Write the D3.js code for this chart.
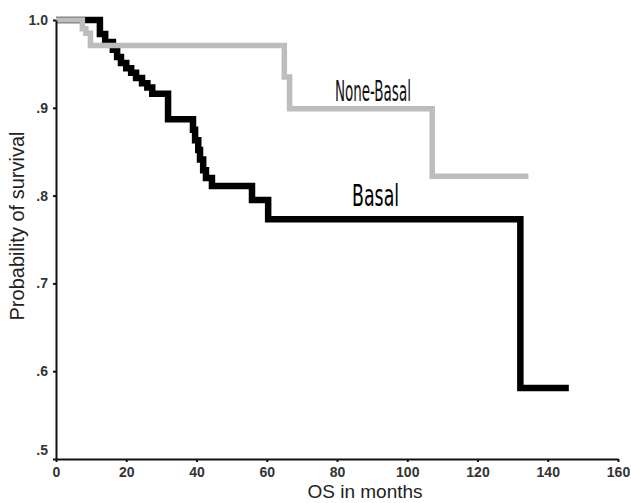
<!DOCTYPE html>
<html>
<head>
<meta charset="utf-8">
<script src="https://cdn.jsdelivr.net/npm/d3@7"></script>
<style>
  body { margin: 0; background: #fff; }
  svg { display: block; }
</style>
</head>
<body>
<div id="chart"></div>
<script>
// Kaplan-Meier steps (months, survival)
var basalMonths = [0, 12.5, 14, 16.2, 17.4, 18.5, 20, 21.4, 22.8, 24.5, 26, 27.4, 31.9, 39, 39.6, 40.5, 41, 41.9, 42.7, 44.4, 55.8, 60.4, 132.2];
var basalSurv   = [1.0, 0.984, 0.975, 0.966, 0.958, 0.951, 0.945, 0.940, 0.934, 0.928, 0.923, 0.916, 0.887, 0.875, 0.863, 0.852, 0.841, 0.829, 0.820, 0.811, 0.795, 0.773, 0.581];
var basalEnd = 146;

var noneMonths = [0, 7.5, 8.5, 9.8, 65, 66.5, 107.1];
var noneSurv   = [1.0, 0.99, 0.985, 0.971, 0.935, 0.899, 0.822];
var noneEnd = 134.5;

var xTicks = [0, 20, 40, 60, 80, 100, 120, 140, 160];
var yTicks = [0.5, 0.6, 0.7, 0.8, 0.9, 1.0];

var W = 631, H = 503;
var svg = d3.select("#chart").append("svg")
  .attr("width", W)
  .attr("height", H);

var x = d3.scaleLinear().domain([0, 160]).range([56, 618]);
var y = d3.scaleLinear().domain([0.5, 1.0]).range([459, 20]);

function steps(months, surv, end) {
  var pts = months.map(function(m, i) { return [m, surv[i]]; });
  pts.push([end, surv[surv.length - 1]]);
  return pts;
}

var line = d3.line()
  .x(function(d) { return x(d[0]); })
  .y(function(d) { return y(d[1]); })
  .curve(d3.curveStepAfter);

// basal (black) under, none-basal (gray) on top
svg.append("path")
  .datum(steps(basalMonths, basalSurv, basalEnd))
  .attr("d", line)
  .attr("fill", "none")
  .attr("stroke", "#000")
  .attr("stroke-width", 6.5)
  .attr("stroke-linejoin", "miter");

svg.append("path")
  .datum(steps(noneMonths, noneSurv, noneEnd))
  .attr("d", line)
  .attr("fill", "none")
  .attr("stroke", "#bdbdbd")
  .attr("stroke-width", 5.5)
  .attr("stroke-linejoin", "miter");

// axes
var xAxis = svg.append("g")
  .attr("transform", "translate(0," + y(0.5) + ")")
  .call(d3.axisBottom(x).tickValues(xTicks).tickSize(3).tickSizeOuter(0).tickPadding(5));

var yAxis = svg.append("g")
  .attr("transform", "translate(" + x(0) + ",0)")
  .call(d3.axisLeft(y).tickValues(yTicks).tickSize(3).tickSizeOuter(0).tickPadding(5)
    .tickFormat(function(d) { return d === 1 ? "1.0" : d3.format(".1f")(d).replace(/^0/, ""); }));

[xAxis, yAxis].forEach(function(g) {
  g.select(".domain").attr("stroke", "#111").attr("stroke-width", 2);
  g.selectAll(".tick line").attr("stroke", "#111").attr("stroke-width", 2);
  g.selectAll(".tick text")
    .attr("font-family", "'Liberation Sans', Arial, sans-serif")
    .attr("font-size", 14)
    .attr("font-weight", "bold")
    .attr("fill", "#333");
});
// the .5 label sits a little higher than its tick
yAxis.selectAll(".tick text").filter(function(d) { return d === 0.5; }).attr("dy", "-0.3em");

// axis titles
svg.append("text")
  .attr("x", (x(0) + x(160)) / 2 + 28)
  .attr("y", 498)
  .attr("text-anchor", "middle")
  .attr("font-family", "'Liberation Sans', Arial, sans-serif")
  .attr("font-size", 19)
  .attr("fill", "#222")
  .text("OS in months");

svg.append("text")
  .attr("transform", "translate(24," + 226 + ") rotate(-90)")
  .attr("text-anchor", "middle")
  .attr("font-family", "'Liberation Sans', Arial, sans-serif")
  .attr("font-size", 20)
  .attr("fill", "#222")
  .text("Probability of survival");

// curve labels
svg.append("text")
  .attr("x", x(79.4))
  .attr("y", y(0.908))
  .attr("font-family", "'Liberation Sans Narrow', 'DejaVu Sans Condensed', sans-serif")
  .attr("font-size", 28)
  .attr("textLength", 76)
  .attr("lengthAdjust", "spacingAndGlyphs")
  .attr("fill", "#111")
  .text("None-Basal");

svg.append("text")
  .attr("x", x(84.3))
  .attr("y", y(0.788))
  .attr("font-family", "'Liberation Sans Narrow', 'DejaVu Sans Condensed', sans-serif")
  .attr("font-size", 31)
  .attr("textLength", 47)
  .attr("lengthAdjust", "spacingAndGlyphs")
  .attr("fill", "#000")
  .text("Basal");
</script>
</body>
</html>
